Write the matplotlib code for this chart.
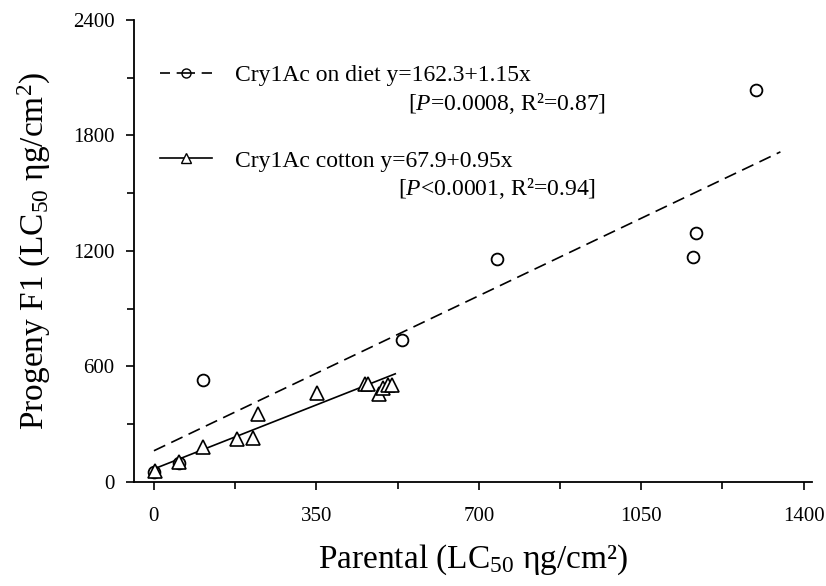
import matplotlib
matplotlib.use("Agg")
import matplotlib.pyplot as plt
from matplotlib.lines import Line2D
from matplotlib.ticker import MultipleLocator
import numpy as np

plt.rcParams["font.family"] = ["Liberation Serif", "DejaVu Serif"]
plt.rcParams["mathtext.fontset"] = "custom"
plt.rcParams["mathtext.rm"] = "Liberation Serif"
plt.rcParams["mathtext.it"] = "Liberation Serif:italic"

# Cry1Ac on diet (circles)
diet_x = [0, 54, 105, 534, 739, 1161, 1169, 1297]
diet_y = [50, 100, 530, 740, 1160, 1170, 1295, 2036]
diet_fit = (162.3, 1.15)
diet_fit_x = [0, 1350]

# Cry1Ac cotton (triangles)
cotton_x = [2, 54, 105, 180, 214, 225, 351, 455, 462, 486, 494, 505, 512]
cotton_y = [57, 105, 182, 222, 230, 352, 464, 511, 511, 459, 490, 502, 505]
cotton_fit = (67.9, 0.95)
cotton_fit_x = [0, 520]

x_ticks = [0, 350, 700, 1050, 1400]
y_ticks = [0, 600, 1200, 1800, 2400]

fig = plt.figure(figsize=(8.26, 5.86), dpi=100)
ax = fig.add_axes([0.1622, 0.1775, 0.8208, 0.7884])

lw = 1.2
fx = np.array(diet_fit_x)
ax.plot(fx, diet_fit[0] + diet_fit[1] * fx, color="black", lw=lw, dashes=(7.5, 4), zorder=2)
cx = np.array(cotton_fit_x)
ax.plot(cx, cotton_fit[0] + cotton_fit[1] * cx, color="black", lw=lw, zorder=2)

ax.plot(diet_x, diet_y, "o", ms=8.5, mfc="white", mec="black", mew=1.3, zorder=3)
ax.plot(cotton_x, cotton_y, "^", ms=10, mfc="white", mec="black", mew=1.2, zorder=3)

ax.set_xlim(-43, 1418)
ax.set_ylim(0, 2400)
ax.set_xticks(x_ticks)
ax.set_yticks(y_ticks)
ax.xaxis.set_minor_locator(MultipleLocator(175))
ax.yaxis.set_minor_locator(MultipleLocator(300))
ax.tick_params(which="both", direction="out", width=1.2, labelsize=15)
ax.tick_params(which="major", length=6)
ax.tick_params(which="minor", length=5)
ax.tick_params(axis="y", pad=8)
ax.tick_params(axis="x", pad=12)
for s in ["top", "right"]:
    ax.spines[s].set_visible(False)
for s in ["left", "bottom"]:
    ax.spines[s].set_linewidth(1.3)

ax.set_xlabel("Parental (LC$_{50}$ ηg/cm²)", fontsize=24, labelpad=12)
ax.set_ylabel("Progeny F1 (LC$_{50}$ ηg/cm$^2$)", fontsize=24, labelpad=14)

handles = [
    Line2D([], [], color="black", lw=lw, dashes=(6, 4, 11, 4, 6, 0.01), marker="o", ms=6.5,
           mfc="none", mec="black"),
    Line2D([], [], color="black", lw=lw, marker="^", ms=7, mfc="white", mec="black"),
]
labels = ["Cry1Ac on diet y=162.3+1.15x", "Cry1Ac cotton y=67.9+0.95x"]
ax.legend(handles, labels, loc="upper left", bbox_to_anchor=(0.038, 0.903), frameon=False,
          fontsize=17, handlelength=2.2, handletextpad=1.0, labelspacing=2.7,
          borderaxespad=0, borderpad=0)
ax.text(0.697, 0.820, "[$P$=0.0008, R²=0.87]", transform=ax.transAxes,
        ha="right", va="center", fontsize=17)
ax.text(0.681, 0.636, "[$P$<0.0001, R²=0.94]", transform=ax.transAxes,
        ha="right", va="center", fontsize=17)

fig.savefig("out.png", dpi=100)
